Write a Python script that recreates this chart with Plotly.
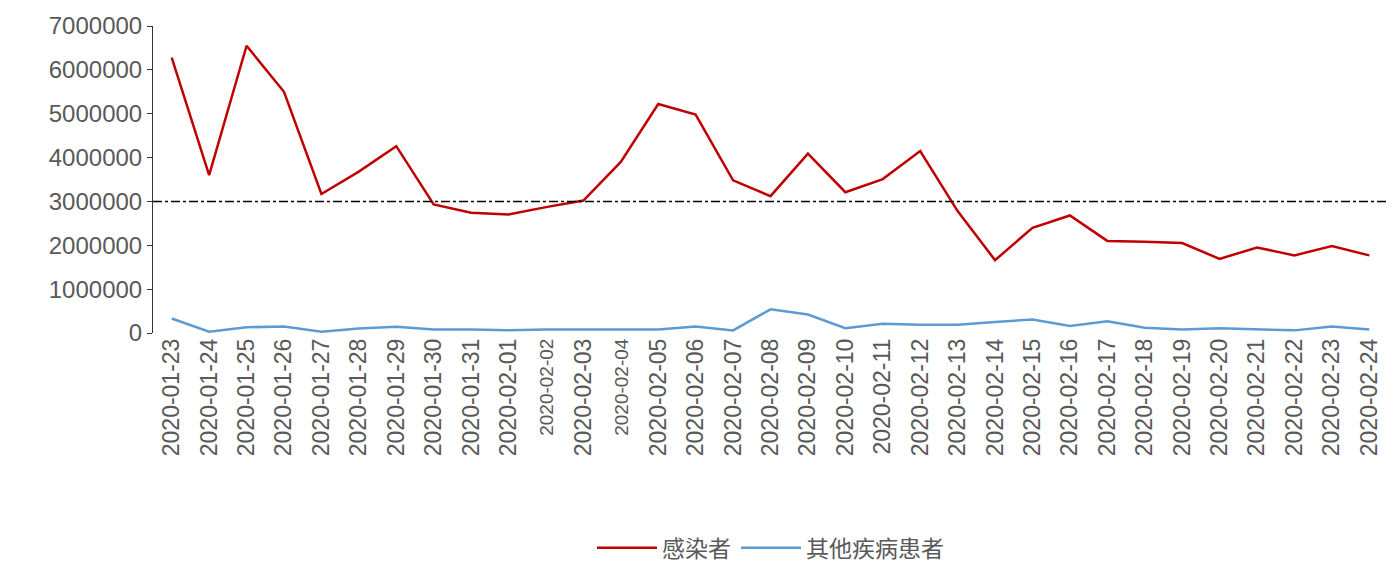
import plotly.graph_objects as go

dates = ["2020-01-23","2020-01-24","2020-01-25","2020-01-26","2020-01-27","2020-01-28","2020-01-29","2020-01-30","2020-01-31",
         "2020-02-01","2020-02-02","2020-02-03","2020-02-04","2020-02-05","2020-02-06","2020-02-07","2020-02-08","2020-02-09",
         "2020-02-10","2020-02-11","2020-02-12","2020-02-13","2020-02-14","2020-02-15","2020-02-16","2020-02-17","2020-02-18",
         "2020-02-19","2020-02-20","2020-02-21","2020-02-22","2020-02-23","2020-02-24"]
infected = [6280000,3600000,6550000,5500000,3170000,3680000,4260000,2930000,2740000,2700000,2870000,3020000,3900000,
            5220000,4980000,3480000,3120000,4090000,3210000,3510000,4150000,2780000,1660000,2400000,2680000,2100000,
            2080000,2050000,1690000,1950000,1770000,1980000,1770000]
others = [330000,30000,130000,150000,30000,100000,140000,80000,80000,60000,80000,80000,80000,80000,150000,60000,
          540000,420000,110000,210000,190000,190000,250000,310000,160000,270000,120000,80000,110000,80000,60000,150000,80000]
threshold = 3000000
small_labels = {"2020-02-02","2020-02-04"}
ticktext = [f"<span style='font-size:19px'>{d}</span>" if d in small_labels else d for d in dates]

fig = go.Figure()
fig.add_trace(go.Scatter(x=dates, y=infected, mode="lines", name="感染者", line=dict(color="#C00000", width=2.5)))
fig.add_trace(go.Scatter(x=dates, y=others, mode="lines", name="其他疾病患者", line=dict(color="#5B9BD5", width=2.5)))
fig.add_shape(type="line", xref="paper", x0=0, x1=1, y0=threshold, y1=threshold,
              line=dict(color="black", width=1.5, dash="dashdot"))
font = "Liberation Sans, Noto Sans CJK SC, sans-serif"
fig.update_layout(
    width=1396, height=574, plot_bgcolor="white", paper_bgcolor="white",
    margin=dict(l=145, r=16, t=18, b=249, autoexpand=False),
    font=dict(family=font, size=23, color="#595959"),
    legend=dict(orientation="h", x=0.5, xanchor="center", y=-0.63, yanchor="top",
                font=dict(size=23, family="Noto Sans CJK SC, sans-serif"), itemwidth=60),
    xaxis=dict(type="category", tickmode="array", tickvals=dates, ticktext=ticktext, tickangle=-90,
               showgrid=False, showline=False, range=[-0.5, len(dates)-0.5], automargin=False),
    yaxis=dict(range=[0, 7000000], dtick=1000000, tickformat="d", showgrid=False, showline=True,
               linecolor="#333", linewidth=1, ticks="outside", ticklen=5, tickcolor="#333", zeroline=False,
               automargin=False, tickfont=dict(size=24)),
)
fig.write_html("out.html")
